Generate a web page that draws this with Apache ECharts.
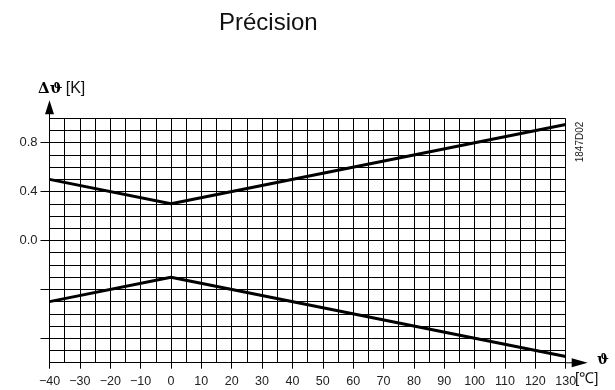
<!DOCTYPE html>
<html><head><meta charset="utf-8">
<script src="https://cdn.jsdelivr.net/npm/echarts@6/dist/echarts.min.js"></script>
<style>html,body{margin:0;padding:0;background:#fff}#c{width:615px;height:390px}</style>
</head><body><div id="c"></div>
<script>
const temps = [-40, 0, 130];
const upperErr = [0.5, 0.3, 0.95];
const lowerErr = [-0.5, -0.3, -0.95];
const yLabelValues = [0, 0.4, 0.8];
const yTickValues = [-0.8, -0.4, 0, 0.4, 0.8];
const xMin = -40, xMax = 130, yMin = -1, yMax = 1;

const font = 'Liberation Sans, Arial, sans-serif';
const chart = echarts.init(document.getElementById('c'), null, {renderer: 'canvas'});
const toPairs = (xs, ys) => xs.map((x, i) => [x, ys[i]]);

chart.setOption({
  animation: false,
  title: {text: 'Précision', left: 214, top: 6,
    textStyle: {fontFamily: font, fontSize: 24, fontWeight: 'normal', color: '#111'}},
  grid: {left: 49.5, right: 49.3, top: 118.3, bottom: 27.3, containLabel: false},
  xAxis: [
    {type: 'value', min: xMin, max: xMax, interval: 5,
      axisLine: {show: true, onZero: false, lineStyle: {color: '#000', width: 1},
        symbol: ['none', 'path://M4.5,0L9,16L5,16L5,22L4,22L4,16L0,16Z'],
        symbolSize: [9, 22], symbolOffset: [0, 11]},
      axisTick: {show: false}, axisLabel: {show: false},
      splitLine: {show: true, lineStyle: {color: '#000', width: 1}}},
    {type: 'value', min: xMin, max: xMax, interval: 10, position: 'bottom',
      axisLine: {show: false, onZero: false},
      axisTick: {show: true, length: 6, lineStyle: {color: '#000', width: 1}},
      axisLabel: {show: true, margin: 12, fontFamily: font, fontSize: 12.5, color: '#222',
        formatter: v => String(v).replace('-', '\u2212')},
      splitLine: {show: false}}
  ],
  yAxis: [
    {type: 'value', min: yMin, max: yMax, interval: 0.1,
      axisLine: {show: true, onZero: false, lineStyle: {color: '#000', width: 1},
        symbol: ['none', 'path://M4.5,0L9,14L5,14L5,18L4,18L4,14L0,14Z'],
        symbolSize: [9, 18], symbolOffset: [0, 9]},
      axisTick: {show: false}, axisLabel: {show: false},
      splitLine: {show: true, lineStyle: {color: '#000', width: 1}}},
    {type: 'value', min: yMin, max: yMax, position: 'left',
      axisLine: {show: false, onZero: false},
      axisTick: {show: true, length: 9, customValues: yTickValues, lineStyle: {color: '#000', width: 1}},
      axisLabel: {show: true, margin: 12, customValues: yLabelValues, fontFamily: font, fontSize: 13, color: '#222',
        formatter: v => v.toFixed(1)},
      splitLine: {show: false}}
  ],
  series: [
    {type: 'line', xAxisIndex: 0, yAxisIndex: 0, data: toPairs(temps, upperErr),
      symbol: 'none', lineStyle: {color: '#000', width: 3}, z: 5},
    {type: 'line', xAxisIndex: 0, yAxisIndex: 0, data: toPairs(temps, lowerErr),
      symbol: 'none', lineStyle: {color: '#000', width: 3}, z: 5}
  ],
  graphic: [
    {type: 'text', left: 38, top: 81, style: {rich: {
      b: {fontFamily: 'DejaVu Serif, serif', fontSize: 15, fontWeight: 'bold', fill: '#000'},
      n: {fontFamily: font, fontSize: 16, fill: '#111'}},
      text: '{b|Δϑ} {n|[K]}'}},
    {type: 'text', left: 597, top: 353, style: {text: 'ϑ',
      fontFamily: 'DejaVu Serif, serif', fontSize: 14, fontWeight: 'bold', fill: '#000'}},
    {type: 'text', left: 575, top: 371, style: {text: '[℃]',
      fontFamily: font, fontSize: 15, fill: '#111'}},
    {type: 'text', x: 580, y: 142, rotation: Math.PI / 2,
      style: {text: '1847D02', fontFamily: font, fontSize: 10, fill: '#222',
        align: 'center', verticalAlign: 'middle'}}
  ]
});
</script></body></html>
